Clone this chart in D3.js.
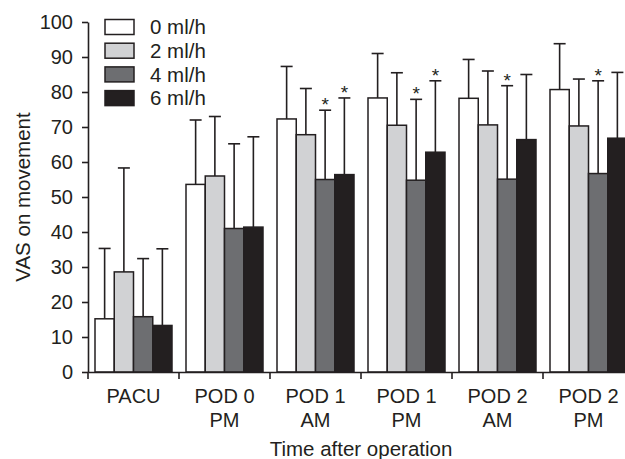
<!DOCTYPE html>
<html>
<head>
<meta charset="utf-8">
<script src="https://cdn.jsdelivr.net/npm/d3@7"></script>
<style>
  body { margin: 0; background: #fff; }
  svg text { font-family: "Liberation Sans", Arial, sans-serif; fill: #231f20; }
</style>
</head>
<body>
<svg id="chart" width="625" height="459"></svg>
<script>
// groups on the x axis
var groups = ["PACU", "POD 0\nPM", "POD 1\nAM", "POD 1\nPM", "POD 2\nAM", "POD 2\nPM"];
var series = ["0 ml/h", "2 ml/h", "4 ml/h", "6 ml/h"];
var colors = ["#ffffff", "#d1d2d4", "#6d6e71", "#231f20"];

// mean values per series (one per group)
var mean0 = [15.2, 53.6, 72.3, 78.3, 78.2, 80.7];
var mean2 = [28.6, 56.0, 67.8, 70.5, 70.6, 70.3];
var mean4 = [15.8, 41.0, 55.0, 54.8, 55.1, 56.7];
var mean6 = [13.3, 41.4, 56.4, 62.8, 66.4, 66.8];

// upper end of error bars
var err0 = [35.3, 72.0, 87.3, 91.0, 89.3, 93.8];
var err2 = [58.3, 73.0, 81.0, 85.5, 86.0, 83.7];
var err4 = [32.4, 65.2, 74.8, 77.9, 81.8, 83.2];
var err6 = [35.2, 67.2, 78.3, 83.2, 85.0, 85.6];

// significance marks (1 = *)
var star0 = [0, 0, 0, 0, 0, 0];
var star2 = [0, 0, 0, 0, 0, 0];
var star4 = [0, 0, 1, 1, 1, 1];
var star6 = [0, 0, 1, 1, 0, 0];

var yTicks = [0, 10, 20, 30, 40, 50, 60, 70, 80, 90, 100];

var means = [mean0, mean2, mean4, mean6];
var errs = [err0, err2, err4, err6];
var stars = [star0, star2, star4, star6];

var svg = d3.select("#chart");
var mLeft = 88, mRight = 634, mTop = 22, mBottom = 372;
var fs = 20;

var x0 = d3.scaleBand().domain(groups).range([mLeft, mRight]).padding(0);
var x1 = d3.scaleBand().domain(series).range([7, x0.bandwidth() - 7]).padding(0);
var y = d3.scaleLinear().domain([0, 100]).range([mBottom, mTop]);

var data = [];
groups.forEach(function(g, gi) {
    series.forEach(function(s, si) {
        data.push({g: g, s: s, si: si, v: means[si][gi], e: errs[si][gi], star: stars[si][gi]});
    });
});

// error bars first (behind bars)
var eb = svg.append("g").attr("stroke", "#231f20").attr("stroke-width", 1.6);
data.forEach(function(d) {
    var cx = x0(d.g) + x1(d.s) + x1.bandwidth() / 2;
    eb.append("line").attr("x1", cx).attr("x2", cx).attr("y1", y(d.v)).attr("y2", y(d.e));
    eb.append("line").attr("x1", cx - 6).attr("x2", cx + 6).attr("y1", y(d.e)).attr("y2", y(d.e));
});

svg.append("g").selectAll("rect").data(data).enter().append("rect")
    .attr("x", function(d) { return x0(d.g) + x1(d.s); })
    .attr("y", function(d) { return y(d.v); })
    .attr("width", x1.bandwidth())
    .attr("height", function(d) { return y(0) - y(d.v); })
    .attr("fill", function(d) { return colors[d.si]; })
    .attr("stroke", "#231f20")
    .attr("stroke-width", 1.5);

svg.append("g").selectAll("text").data(data.filter(function(d) { return d.star; })).enter().append("text")
    .attr("x", function(d) { return x0(d.g) + x1(d.s) + x1.bandwidth() / 2; })
    .attr("y", function(d) { return y(d.e) + 1; })
    .attr("text-anchor", "middle")
    .attr("font-size", 19)
    .text("*");

// y axis
var yAxis = svg.append("g").attr("transform", "translate(" + mLeft + ",0)")
    .call(d3.axisLeft(y).tickValues(yTicks).tickSize(6).tickSizeOuter(0).tickPadding(9));
yAxis.selectAll("text").attr("font-size", fs).attr("font-family", null);

// x axis with boundary ticks
var xAxis = svg.append("g").attr("transform", "translate(0," + mBottom + ")")
    .call(d3.axisBottom(x0).tickSize(0).tickSizeOuter(0).tickPadding(0));
xAxis.selectAll(".tick text").remove();
xAxis.selectAll(".tick").each(function(g) {
    var t = d3.select(this).append("text").attr("font-size", fs).attr("text-anchor", "middle").attr("y", 31);
    g.split("\n").forEach(function(line, i) {
        t.append("tspan").attr("x", 0).attr("dy", i ? 24 : 0).text(line);
    });
});
groups.forEach(function(g) {
    xAxis.append("line").attr("x1", x0(g)).attr("x2", x0(g)).attr("y1", 0).attr("y2", 7);
});

svg.selectAll(".domain, .tick line, g line").attr("stroke", "#231f20");
svg.selectAll(".domain").attr("stroke-width", 1.6);
yAxis.selectAll(".tick line").attr("stroke-width", 1.6);
xAxis.selectAll("line").attr("stroke-width", 1.6);

// axis titles
svg.append("text").attr("transform", "translate(23," + ((mTop + mBottom) / 2) + ") rotate(-90)")
    .attr("text-anchor", "middle").attr("dy", "0.35em").attr("font-size", 20.5).text("VAS on movement");
svg.append("text").attr("x", (mLeft + mRight) / 2).attr("y", 456)
    .attr("text-anchor", "middle").attr("font-size", 20.5).text("Time after operation");

// legend
var lg = svg.append("g");
series.forEach(function(s, i) {
    var ly = 19.5 + i * 23.7;
    lg.append("rect").attr("x", 105).attr("y", ly).attr("width", 29).attr("height", 15)
        .attr("fill", colors[i]).attr("stroke", "#231f20").attr("stroke-width", 1.5);
    lg.append("text").attr("x", 150).attr("y", ly + 7.5).attr("dy", "0.36em").attr("font-size", 20.5).text(s);
});
</script>
</body>
</html>
